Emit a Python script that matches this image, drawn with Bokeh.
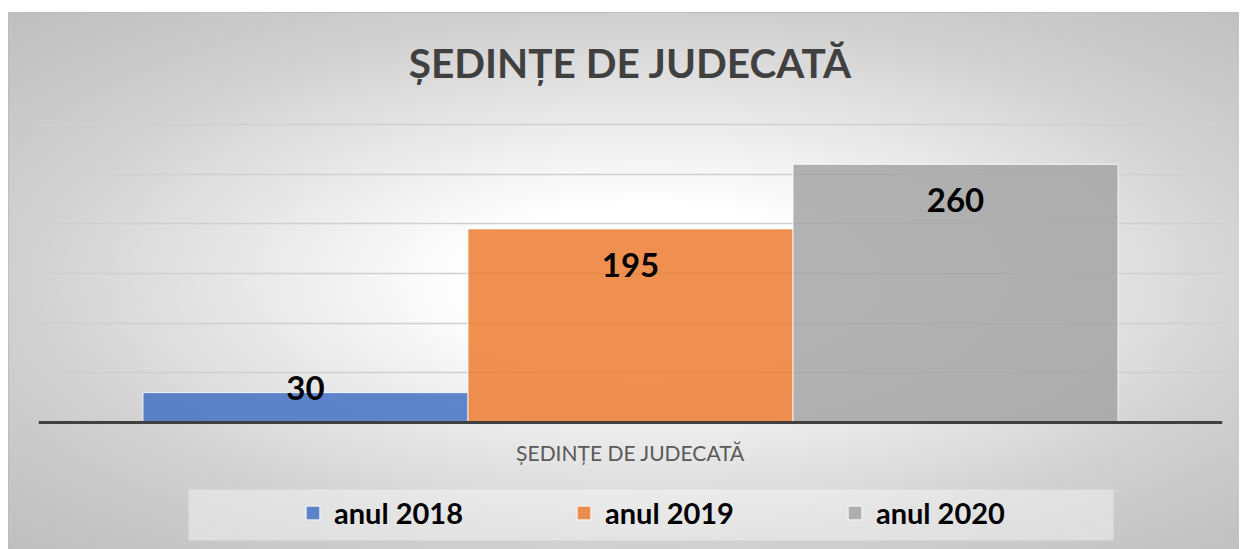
from bokeh.plotting import figure
from bokeh.models import (ColumnDataSource, FactorRange, Range1d, Legend, LegendItem,
                          BoxAnnotation, InlineStyleSheet, Span)
from bokeh.transform import dodge
from bokeh.embed import file_html
from bokeh.resources import INLINE
from bokeh.core.properties import value

# ---- data ----
title_text = "ȘEDINȚE DE JUDECATĂ"
category = ["ȘEDINȚE DE JUDECATĂ"]
series = ["anul 2018", "anul 2019", "anul 2020"]
values = [30, 195, 260]
colors = ["#4472C4", "#ED7D31", "#A5A5A5"]
y_ticks = [0, 50, 100, 150, 200, 250, 300]
axis_base = 0

# ---- layout / style ----
bar_width = 0.2745
offsets = [-bar_width, 0.0, bar_width]
FONT = "Lato"

# the frame covers the whole chart so that title, axis label and legend sit inside it
p = figure(x_range=FactorRange(*category, range_padding=0), y_range=Range1d(-127, 413),
           frame_width=1184, frame_height=536, output_backend="svg", toolbar_location=None,
           title=None, min_border_left=30, min_border_right=17, min_border_top=0,
           min_border_bottom=1)
p.margin = (12, 0, 0, 8)

p.background_fill_color = None
p.border_fill_color = None
p.outline_line_color = None
p.stylesheets = [InlineStyleSheet(css=(
    ":host { background: radial-gradient(ellipse farthest-corner at 52% 50%, "
    "#ffffff 0%, #ffffff 20%, #d0d0d0 70%, #bebebe 100%); "
    "box-shadow: inset 1px 1px 0 0 #bdbdbd; }"))]

p.xaxis.visible = False
p.yaxis.visible = False
p.xgrid.visible = False
p.ygrid.ticker = y_ticks
p.ygrid.grid_line_color = "#d0d0d0"
p.ygrid.grid_line_width = 1.5

# chart title, anchored above the top of the value scale
p.text(x=category, y=[y_ticks[-1]], text=[title_text], y_offset=-62,
       text_align="center", text_baseline="middle", text_font=value(FONT),
       text_font_style="bold", text_font_size="40.5px", text_color="#404040")

# category axis line and label
p.add_layout(Span(location=axis_base, dimension="width", line_color="#404040", line_width=3))
p.text(x=category, y=[axis_base] * len(category), text=category, y_offset=30,
       text_align="center", text_baseline="middle", text_font=value(FONT),
       text_font_size="21px", text_color="#595959")

legend_box = BoxAnnotation(left=180, right=1105, top=477, bottom=528,
                           left_units="canvas", right_units="canvas",
                           top_units="canvas", bottom_units="canvas",
                           fill_color="white", fill_alpha=0.4, line_color=None)
p.add_layout(legend_box)

items = []
for i, s in enumerate(series):
    src = ColumnDataSource(dict(cat=category, val=[values[i]], label=[str(values[i])],
                                yoff=[36 if values[i] > 60 else -5]))
    r = p.vbar(x=dodge("cat", offsets[i], range=p.x_range), top="val", bottom=axis_base,
               width=bar_width, source=src, fill_color=colors[i], fill_alpha=0.85,
               line_color="white", line_alpha=0.8, line_width=1)
    p.text(x=dodge("cat", offsets[i], range=p.x_range), y="val", text="label",
           y_offset="yoff", source=src, text_align="center", text_baseline="middle",
           text_font=value(FONT), text_font_style="bold", text_font_size="33px",
           text_color="black")
    items.append(LegendItem(label=s, renderers=[r]))

legend = Legend(items=items, orientation="horizontal", location=(266, 18),
                label_text_font=FONT, label_text_font_style="bold",
                label_text_font_size="29px", label_text_color="black",
                glyph_width=17, glyph_height=17, label_standoff=13, spacing=112,
                padding=10, margin=0, background_fill_alpha=0,
                border_line_color=None)
p.add_layout(legend, "center")

open("out.html", "w").write(file_html(p, INLINE))
